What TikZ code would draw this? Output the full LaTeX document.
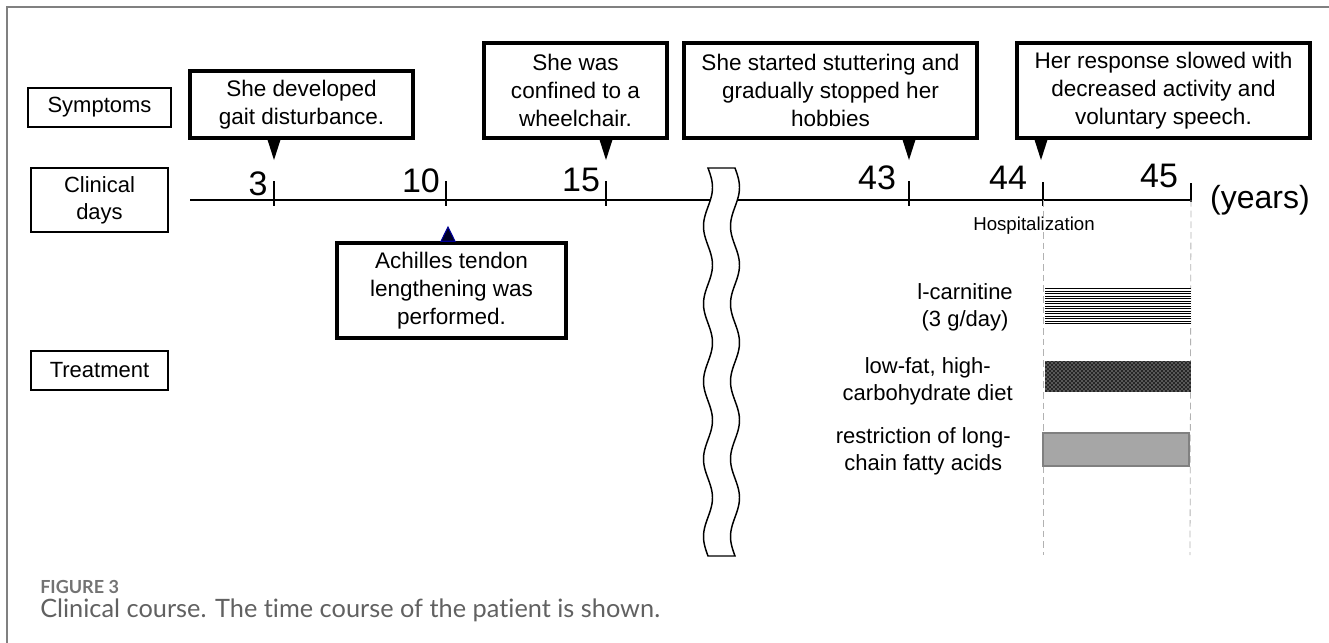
\documentclass[tikz,border=0pt]{standalone}
\usepackage{fontspec}
\setmainfont{Liberation Sans}
\newfontfamily\capfont[Ligatures=NoCommon]{Lato}
\usepackage{tikz}
\usetikzlibrary{patterns}

\begin{document}
\begin{tikzpicture}[x=0.75pt,y=0.75pt,yscale=-1,xscale=1,
  labelbox/.style={draw,line width=0.8,align=center,minimum width=102.75pt,minimum height=29.25pt,inner sep=0,font=\fontsize{16.5}{20}\selectfont},
  eventbox/.style={draw,line width=2.6,align=center,inner sep=0,minimum height=71.25pt,font=\fontsize{16.9}{21}\selectfont},
  yearnum/.style={font=\fontsize{25.5}{28}\selectfont,inner sep=0},
  treatnote/.style={anchor=east,align=center,inner sep=0,font=\fontsize{16.5}{20}\selectfont},
  hospline/.style={draw=black!30,line width=0.6,dash pattern=on 5pt off 3pt}]
%set diagram left start at 0, and has height of 643
\useasboundingbox (0,0) rectangle (1329,643);

% Frame
\draw [color=black!50,line width=1.4] (1329,7) -- (7,7) -- (7,643) ;

% Text Node
\node [labelbox,minimum width=107.25pt] (sympBox) at (99.5,107.5) {Symptoms};
% Text Node
\node [labelbox,minimum height=48pt] (clinBox) at (99.5,200) {Clinical\\days};
% Text Node
\node [labelbox] (treatBox) at (99.5,370.5) {Treatment};

% Coordinates on the time axis
\coordinate (axStart) at (190,200);
\coordinate (axEnd) at (1191,200);
\coordinate (t3) at (274,200);
\coordinate (t10) at (446,200);
\coordinate (t15) at (606,200);
\coordinate (t43) at (909,200);
\coordinate (t44) at (1043,200);
\coordinate (t45) at (1191,200);
\coordinate (tipGait) at (274,160);
\coordinate (tipWheel) at (606,160);
\coordinate (tipStutter) at (909,160);
\coordinate (tipSpeech) at (1041,160);
\coordinate (tipAchilles) at (448,227);
\coordinate (endA) at (1043,555);
\coordinate (endB) at (1190,555);

% Connection
\draw [line width=0.8] (axStart) -- (axEnd) ;

% Ticks
\draw [line width=0.8] (t3) ++(0,-19) -- ++(0,25) ;
\draw [line width=0.8] (t10) ++(0,-19) -- ++(0,25) ;
\draw [line width=0.8] (t15) ++(0,-19) -- ++(0,25) ;
\draw [line width=0.8] (t43) ++(0,-19) -- ++(0,25) ;
\draw [line width=0.8] (t44) ++(0,-18) -- ++(0,24) ;
\draw [line width=0.8] (t45) ++(0,-17) -- ++(0,19) ;

% Text Node
\node [yearnum] (n3) at (258,184) {3};
% Text Node
\node [yearnum] (n10) at (421,181) {10};
% Text Node
\node [yearnum] (n15) at (581,180) {15};
% Text Node
\node [yearnum] (n43) at (877,178) {43};
% Text Node
\node [yearnum] (n44) at (1008,178) {44};
% Text Node
\node [yearnum] (n45) at (1159,176) {45};
% Text Node
\node [yearnum,font=\fontsize{24}{28}\selectfont] (yrs) at (1260,200) {(years)};
% Text Node
\node [font=\fontsize{14}{16}\selectfont,inner sep=0] (hosp) at (1034,226) {Hospitalization};

% Break in the axis
\draw [fill=white,line width=1.1] plot[domain=168:556,samples=140] ({708+4.5*sin((\x-168)*4.639)},\x)
  -- plot[domain=556:168,samples=140] ({735+4.5*sin((\x-168)*4.639)},\x) -- cycle ;

% Text Node
\node [eventbox,minimum width=167.25pt,minimum height=50.25pt] (evGait) at (301.5,104.5) {She developed\\gait disturbance.};
% Text Node
\node [eventbox,minimum width=137.25pt] (evWheel) at (575.5,90.5) {She was\\confined to a\\wheelchair.};
% Text Node
\node [eventbox,minimum width=219.75pt] (evStutter) at (830.5,90.5) {She started stuttering and\\gradually stopped her\\hobbies};
% Text Node
\node [eventbox,minimum width=219.75pt] (evSpeech) at (1163.5,90.5) {Her response slowed with\\decreased activity and\\voluntary speech.};
% Text Node
\node [eventbox,minimum width=171.75pt] (evAchilles) at (451.5,290.5) {Achilles tendon\\lengthening was\\performed.};

% Connection
\fill (tipGait |- evGait.south) ++(-6.5,0) -- ++(13,0) -- (tipGait) -- cycle ;
% Connection
\fill (tipWheel |- evWheel.south) ++(-6.5,0) -- ++(13,0) -- (tipWheel) -- cycle ;
% Connection
\fill (tipStutter |- evStutter.south) ++(-6.5,0) -- ++(13,0) -- (tipStutter) -- cycle ;
% Connection
\fill (tipSpeech |- evSpeech.south) ++(-6.5,0) -- ++(13,0) -- (tipSpeech) -- cycle ;
% Connection
\filldraw [fill=black!85!blue,draw=blue!60!black,line width=0.8] (tipAchilles |- evAchilles.north) ++(-7,0) -- ++(14,0) -- (tipAchilles) -- cycle ;

% Hospital stay
\draw [hospline] (t44) -- (endA) ;
\draw [hospline] (t45) -- (endB) ;

% Text Node
\node [treatnote] (noteCarn) at (1013,307) {l-carnitine\\(3 g/day)};
% Text Node
\node [treatnote] (noteDiet) at (1013,381) {low-fat, high-\\carbohydrate diet};
% Text Node
\node [treatnote] (noteFat) at (1011,451) {restriction of long-\\chain fatty acids};

% Bars
\fill [white] (1045,288) rectangle (1191,325) ;
\foreach \yy in {288.5,291,...,325} {\draw [line width=0.75] (1045,\yy) -- (1191,\yy) ;}
\fill [black!85] (1045,361) rectangle (1191,392) ;
\fill [pattern=crosshatch dots,pattern color=white] (1045,361) rectangle (1191,392) ;
\filldraw [fill=black!35,draw=black!50,line width=0.8] (1043,433) rectangle (1189,466) ;

% Caption
\node [anchor=west,inner sep=0,text=black!55,font=\capfont\bfseries\fontsize{13.5}{16}\selectfont] (figNum) at (40,587) {FIGURE 3};
\node [anchor=west,inner sep=0,text=black!62,font=\capfont\fontsize{19}{22}\selectfont] (figCap) at (40,610) {Clinical course. The time course of the patient is shown.};

\end{tikzpicture}
\end{document}
